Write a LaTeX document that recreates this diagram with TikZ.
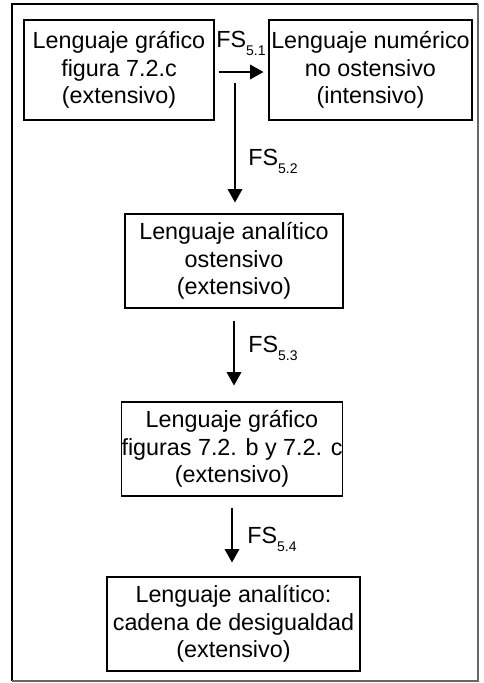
\documentclass[tikz,border=0pt]{standalone}
\usepackage{fontspec}
\setmainfont{Liberation Sans}
\usetikzlibrary{positioning,arrows.meta}
\newcommand{\fslab}[1]{FS\raisebox{-6pt}{\fontsize{10.5}{10.5}\selectfont #1}}

\begin{document}
\begin{tikzpicture}[x=0.75pt,y=-0.75pt,
        box/.style={draw,line width=0.8pt,align=center,inner sep=0pt,
                    font=\fontsize{17.5}{20.5}\selectfont},
        lab/.style={anchor=base west,inner sep=0pt,font=\fontsize{17.5}{20.5}\selectfont},
        arr/.style={-{Triangle[length=10pt,width=11pt]},line width=0.8pt}]
        \useasboundingbox (0,0) rectangle (483,683);
        \draw[line width=0.8pt] (12,681) -- (12,4) -- (478,4);
        \draw[line width=1.2pt,black!60] (478,4) -- (478,681) -- (12,681);
        \node[box,minimum width=190*0.75pt,minimum height=100*0.75pt] (graf) at (119,70)
            {Lenguaje gráfico\\figura 7.2.c\\(extensivo)};
        \node[box,minimum width=203*0.75pt,minimum height=100*0.75pt] (num) at (370.5,70)
            {Lenguaje numérico\\no ostensivo\\(intensivo)};
        \node[box,minimum width=218*0.75pt,minimum height=94*0.75pt] (anal) at (234,261)
            {Lenguaje analítico\\ostensivo\\(extensivo)};
        \node[box,minimum width=218*0.75pt,minimum height=94*0.75pt] (grafs) at (232,449)
            {Lenguaje gráfico\\figuras 7.2. b y 7.2. c\\(extensivo)};
        \node[box,minimum width=253*0.75pt,minimum height=94*0.75pt] (cadena) at (233.5,624)
            {Lenguaje analítico:\\cadena de desigualdad\\(extensivo)};
        \coordinate (split) at (235,83);
        \draw[arr,shorten <=4*0.75pt,shorten >=5*0.75pt] (graf.east |- 0,72) -- (num.west |- 0,72);
        \draw[arr,shorten >=11*0.75pt] (split) -- (split |- anal.north);
        \draw[arr,shorten <=12*0.75pt,shorten >=16*0.75pt] (anal.south) -- (anal.south |- grafs.north);
        \draw[arr,shorten <=11*0.75pt,shorten >=14*0.75pt] (grafs.south) -- (grafs.south |- cadena.north);
        \node[lab] (fs1) at (216,47) {\fslab{5.1}};
        \node[lab] (fs2) at (248,165) {\fslab{5.2}};
        \node[lab] (fs3) at (248,352) {\fslab{5.3}};
        \node[lab] (fs4) at (247,543) {\fslab{5.4}};
    \end{tikzpicture}
\end{document}
